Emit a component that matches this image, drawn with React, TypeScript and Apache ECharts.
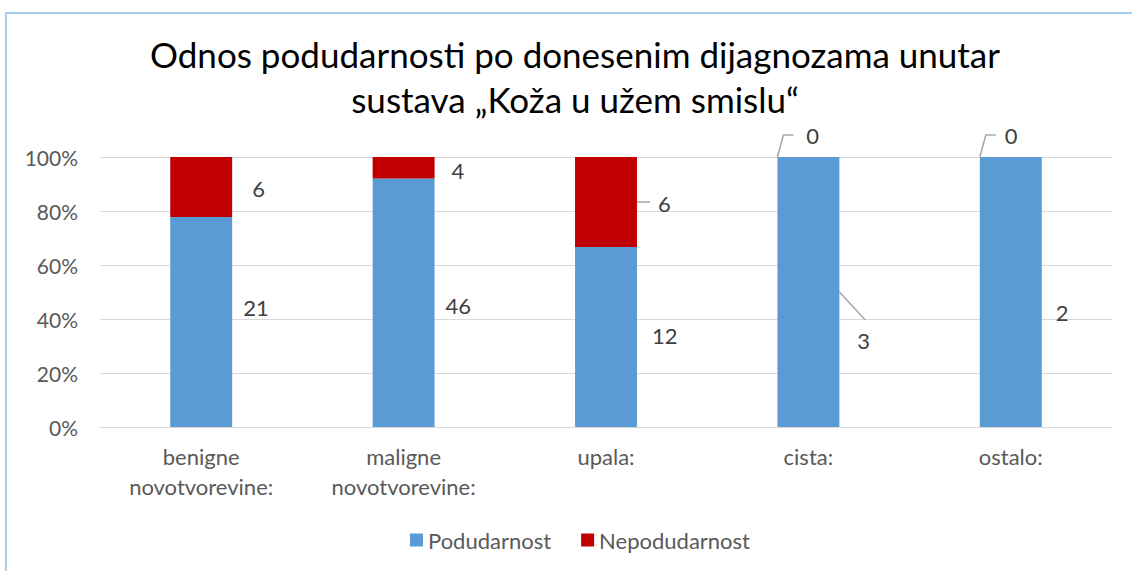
import React, { useEffect, useRef } from 'react';
import * as echarts from 'echarts';

const categories = ['benigne\nnovotvorevine:', 'maligne\nnovotvorevine:', 'upala:', 'cista:', 'ostalo:'];
const podudarnost = [21, 46, 12, 3, 2];
const nepodudarnost = [6, 4, 6, 0, 0];
const titleText = 'Odnos podudarnosti po donesenim dijagnozama unutar\nsustava „Koža u užem smislu“';
const seriesNames = ['Podudarnost', 'Nepodudarnost'];

const FONT = 'Lato, "Noto Sans", sans-serif';
const BLUE = '#5b9bd5';
const RED = '#c00000';
const FS = 22;

// label offsets from the bar's right edge / vertical middle (style)
const podOffsets = [[11, -15], [11, 3], [15, -2], [18, 48], [14, 20]];
const nepOffsets = [[20, 1], [17, 3], [21, 1], [-33, -22], [-37, -22]];

const totals = podudarnost.map((v, i) => v + nepodudarnost[i]);
const podPct = podudarnost.map((v, i) => (v / totals[i]) * 100);
const nepPct = nepodudarnost.map((v, i) => (v / totals[i]) * 100);

const BAR_FRAC = 0.306;

export default function App() {
  const ref = useRef<HTMLDivElement>(null);
  useEffect(() => {
    const chart = echarts.init(ref.current!, null, { renderer: 'svg' });
    const labelBase = {
      show: true,
      position: 'right',
      distance: 0,
      fontFamily: FONT,
      fontSize: FS,
      color: '#404040',
    };
    chart.setOption({
      animation: false,
      textStyle: { fontFamily: FONT },
      title: {
        text: titleText,
        left: 575,
        textAlign: 'center',
        top: 26,
        padding: [5, 0, 5, 0],
        textStyle: { fontFamily: FONT, fontSize: 35, fontWeight: 'normal', color: '#000', lineHeight: 45 },
      },
      legend: {
        left: 405,
        top: 524,
        itemWidth: 13,
        itemHeight: 13,
        itemGap: 30,
        icon: 'rect',
        textStyle: { fontFamily: FONT, fontSize: FS, color: '#595959' },
        data: seriesNames,
      },
      grid: { left: 100, right: 20, top: 157, bottom: 144, containLabel: false },
      xAxis: {
        type: 'category',
        data: categories,
        axisLine: { lineStyle: { color: '#d9d9d9', width: 1 } },
        axisTick: { show: false },
        axisLabel: { fontFamily: FONT, fontSize: FS, color: '#595959', margin: 14, lineHeight: 30 },
      },
      yAxis: {
        type: 'value',
        min: 0,
        max: 100,
        interval: 20,
        axisLabel: { fontFamily: FONT, fontSize: 21, color: '#595959', margin: 22, formatter: '{value}%' },
        splitLine: { lineStyle: { color: '#d9d9d9', width: 1 } },
        axisLine: { show: false },
        axisTick: { show: false },
      },
      series: [
        {
          name: seriesNames[0],
          type: 'bar',
          stack: 'total',
          barWidth: BAR_FRAC * 100 + '%',
          itemStyle: { color: BLUE },
          label: { ...labelBase, formatter: (p: any) => String(podudarnost[p.dataIndex]) },
          data: podPct.map((v, i) => ({ value: v, label: { offset: podOffsets[i] } })),
        },
        {
          name: seriesNames[1],
          type: 'bar',
          stack: 'total',
          barWidth: BAR_FRAC * 100 + '%',
          itemStyle: { color: RED },
          label: { ...labelBase, formatter: (p: any) => String(nepodudarnost[p.dataIndex]) },
          data: nepPct.map((v, i) => ({ value: v, label: { offset: nepOffsets[i] } })),
        },
      ],
    });

    const px = (i: number) => chart.convertToPixel({ xAxisIndex: 0 }, categories[i]) as number;
    const py = (v: number) => chart.convertToPixel({ yAxisIndex: 0 }, v) as number;
    const half = ((px(1) - px(0)) * BAR_FRAC) / 2;
    const lineStyle = { stroke: '#a6a6a6', lineWidth: 1.5, fill: 'none' };
    const graphics: any[] = [
      {
        type: 'rect',
        shape: { x: 6, y: 13, width: 1300, height: 800 },
        style: { fill: 'none', stroke: '#a9cdee', lineWidth: 2 },
        silent: true,
      },
    ];
    // upala: nepodudarnost leader
    {
      const r = px(2) + half;
      const ym = py(podPct[2] + nepPct[2] / 2);
      graphics.push({ type: 'line', shape: { x1: r, y1: ym, x2: r + 13, y2: ym }, style: lineStyle, silent: true });
    }
    // cista: podudarnost leader
    {
      const r = px(3) + half;
      const ym = py(podPct[3] / 2);
      graphics.push({ type: 'line', shape: { x1: r, y1: ym, x2: r + 26, y2: ym + 28 }, style: lineStyle, silent: true });
    }
    // zero-value leaders (cista, ostalo)
    [3, 4].forEach((i) => {
      const l = px(i) - half;
      const yt = py(podPct[i] + nepPct[i]);
      graphics.push({
        type: 'polyline',
        shape: { points: [[l, yt], [l + 6, yt - 22], [l + 16, yt - 22]] },
        style: lineStyle,
        silent: true,
      });
    });
    chart.setOption({ graphic: graphics });
    return () => chart.dispose();
  }, []);
  return (
    <div
      ref={ref}
      style={{ position: 'fixed', left: 0, top: 0, width: 1132, height: 571, background: '#fff' }}
    />
  );
}
